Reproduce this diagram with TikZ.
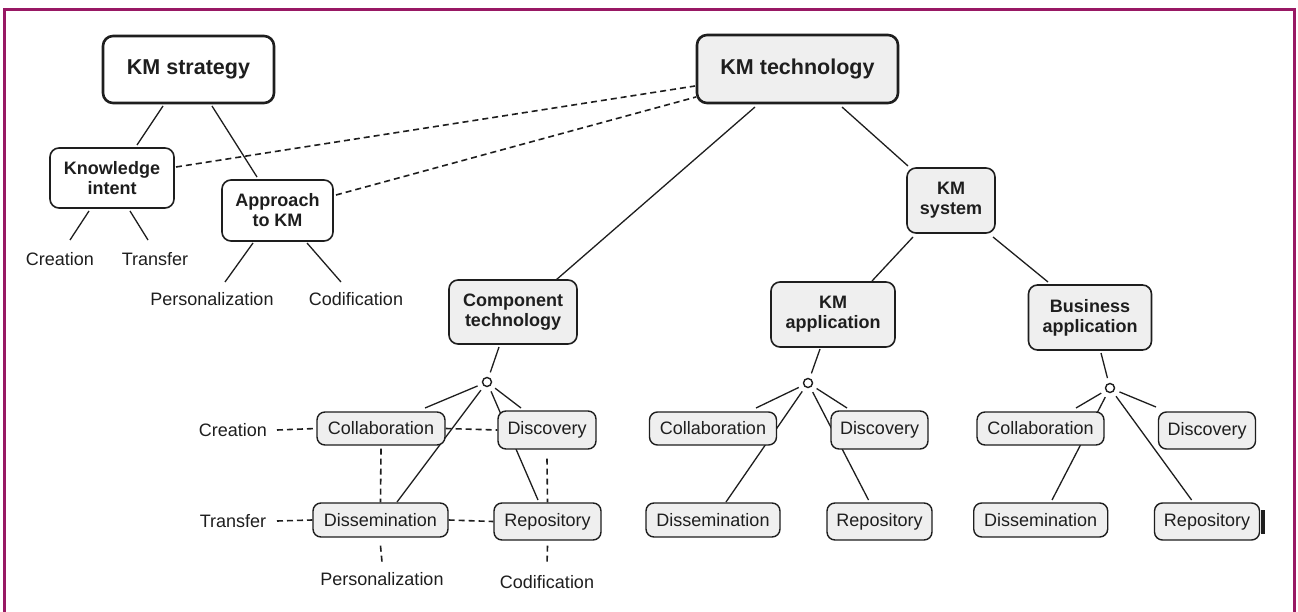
\documentclass[tikz,border=0pt]{standalone}
\usepackage{fontspec}
\setmainfont{Liberation Sans}
\usetikzlibrary{calc}
\definecolor{frame}{RGB}{152,24,100}
\definecolor{boxfill}{RGB}{239,239,239}
\definecolor{ink}{RGB}{30,30,30}
\pgfdeclarelayer{back}
\pgfdeclarelayer{bg}
\pgfsetlayers{back,bg,main}
\begin{document}
\begin{tikzpicture}[x=1pt,y=-1pt,
  every node/.style={text=ink},
  bigbox/.style={draw=ink, rounded corners=10pt, line width=2.6pt, inner sep=0pt, font=\fontsize{21.5}{24}\selectfont\bfseries, align=center},
  midbox/.style={draw=ink, rounded corners=9pt, line width=1.6pt, inner sep=0pt, font=\fontsize{18}{20}\selectfont\bfseries, align=center},
  smallbox/.style={draw=ink, fill=boxfill, rounded corners=8pt, line width=1.4pt, inner sep=0pt, font=\fontsize{18}{20}\selectfont},
  lbl/.style={inner sep=0pt, font=\fontsize{18}{20}\selectfont},
  ln/.style={draw=ink, line width=1.3pt},
  kn/.style={ln, shorten >=5pt},
  nk/.style={ln, shorten <=5pt},
  dsh/.style={draw=ink, line width=1.6pt, dash pattern=on 6pt off 4pt},
  knot/.style={circle, draw=ink, fill=white, line width=1.4pt, minimum size=9pt, inner sep=0pt},
]
\useasboundingbox (0,0) rectangle (1298,612);
\begin{pgfonlayer}{back}
\fill[white] (0,0) rectangle (1298,612);
\draw[frame, line width=3.5pt, line join=miter] (4.5,612) -- (4.5,9.5) -- (1294.5,9.5) -- (1294.5,612);
\end{pgfonlayer}

% main nodes
\node[bigbox, fill=white, minimum width=171pt, minimum height=67pt] (strat) at (188.5,69.5) {KM strategy};
\node[bigbox, fill=boxfill, minimum width=201pt, minimum height=68pt] (tech) at (797.5,69) {KM technology};
\node[midbox, fill=white, minimum width=124pt, minimum height=60pt] (intent) at (112,178) {Knowledge\\intent};
\node[midbox, fill=white, minimum width=111pt, minimum height=61pt] (approach) at (277.5,210.5) {Approach\\to KM};
\node[lbl] (cre1) at (60,259) {Creation};
\node[lbl] (tra1) at (155,259) {Transfer};
\node[lbl] (per1) at (212,299) {Personalization};
\node[lbl] (cod1) at (356,299) {Codification};
\node[midbox, fill=boxfill, minimum width=88pt, minimum height=65pt] (kmsys) at (951,200.5) {KM\\system};
\node[midbox, fill=boxfill, minimum width=128pt, minimum height=64pt] (comp) at (513,312) {Component\\technology};
\node[midbox, fill=boxfill, minimum width=124pt, minimum height=65pt] (kmapp) at (833,314.5) {KM\\application};
\node[midbox, fill=boxfill, minimum width=123pt, minimum height=65pt] (bus) at (1090,317.5) {Business\\application};

% junction knots
\node[knot] (o1) at (487,382) {};
\node[knot] (o2) at (808,383) {};
\node[knot] (o3) at (1110,388) {};

% cluster 1
\node[smallbox, minimum width=128pt, minimum height=33pt] (c1col) at (381,428.5) {Collaboration};
\node[smallbox, minimum width=98pt, minimum height=38pt] (c1dis) at (547,430) {Discovery};
\node[smallbox, minimum width=135pt, minimum height=34pt] (c1dsm) at (380.5,520) {Dissemination};
\node[smallbox, minimum width=107pt, minimum height=37pt] (c1rep) at (547.5,521.5) {Repository};
\node[lbl] (cre2) at (233,430) {Creation};
\node[lbl] (tra2) at (233,521) {Transfer};
\node[lbl] (per2) at (382,579) {Personalization};
\node[lbl] (cod2) at (547,582) {Codification};

% cluster 2
\node[smallbox, minimum width=127pt, minimum height=33pt] (c2col) at (713,428.5) {Collaboration};
\node[smallbox, minimum width=97pt, minimum height=38pt] (c2dis) at (879.5,430) {Discovery};
\node[smallbox, minimum width=134pt, minimum height=34pt] (c2dsm) at (713,520) {Dissemination};
\node[smallbox, minimum width=105pt, minimum height=37pt] (c2rep) at (879.5,521.5) {Repository};

% cluster 3
\node[smallbox, minimum width=127pt, minimum height=33pt] (c3col) at (1040.5,428.5) {Collaboration};
\node[smallbox, minimum width=97pt, minimum height=37pt] (c3dis) at (1207,430.5) {Discovery};
\node[smallbox, minimum width=134pt, minimum height=34pt] (c3dsm) at (1040.7,520) {Dissemination};
\node[smallbox, minimum width=105pt, minimum height=37pt] (c3rep) at (1207,521.5) {Repository};
\fill[ink] (1261,510) rectangle (1264.5,534);

\begin{pgfonlayer}{bg}
% strategy tree
\draw[ln] ([xshift=-25.5pt,yshift=-36.5pt]strat.center) -- ([xshift=25pt,yshift=33pt]intent.center);
\draw[ln] ([xshift=23.5pt,yshift=-36.5pt]strat.center) -- ([xshift=-20.5pt,yshift=33.5pt]approach.center);
\draw[ln] ([xshift=-23pt,yshift=-33pt]intent.center) -- ([xshift=10pt,yshift=19pt]cre1.center);
\draw[ln] ([xshift=18pt,yshift=-33pt]intent.center) -- ([xshift=-7pt,yshift=19pt]tra1.center);
\draw[ln] ([xshift=-24.5pt,yshift=-32.5pt]approach.center) -- ([xshift=13pt,yshift=17pt]per1.center);
\draw[ln] ([xshift=29.5pt,yshift=-32.5pt]approach.center) -- ([xshift=-15pt,yshift=17pt]cod1.center);
\draw[dsh] ([xshift=64pt,yshift=11pt]intent.center) -- ([xshift=-102.5pt,yshift=-17pt]tech.center);
\draw[dsh] ([xshift=58.5pt,yshift=15.5pt]approach.center) -- ([xshift=-101.5pt,yshift=-28pt]tech.center);
% technology tree
\draw[ln] ([xshift=-42.5pt,yshift=-38pt]tech.center) -- ([xshift=43pt,yshift=32pt]comp.center);
\draw[ln] ([xshift=44.5pt,yshift=-38pt]tech.center) -- ([xshift=-43pt,yshift=34.5pt]kmsys.center);
\draw[ln] ([xshift=-38pt,yshift=-36.5pt]kmsys.center) -- ([xshift=39pt,yshift=33.5pt]kmapp.center);
\draw[ln] ([xshift=42pt,yshift=-36.5pt]kmsys.center) -- ([xshift=-42pt,yshift=35.5pt]bus.center);
% cluster 1
\draw[kn] ([xshift=-14pt,yshift=-35pt]comp.center) -- (o1);
\draw[nk] (o1) -- ([xshift=44pt,yshift=20.5pt]c1col.center);
\draw[nk] (o1) -- ([xshift=16.5pt,yshift=18pt]c1dsm.center);
\draw[nk] (o1) -- ([xshift=-26pt,yshift=22pt]c1dis.center);
\draw[nk] (o1) -- ([xshift=-9.5pt,yshift=21.5pt]c1rep.center);
\draw[dsh] ([xshift=44pt]cre2.center) -- (c1col.west);
\draw[dsh] ([xshift=44pt]tra2.center) -- (c1dsm.west);
\draw[dsh] (c1col.east) -- (c1dis.west);
\draw[dsh] (c1dsm.east) -- (c1rep.west);
\draw[dsh] ([yshift=-3pt]c1col.south) -- (c1dsm.north);
\draw[dsh] ([yshift=-9pt]c1dis.south) -- (c1rep.north);
\draw[dsh] ([yshift=-8pt]c1dsm.south) -- ([yshift=17pt]per2.center);
\draw[dsh] ([yshift=-5pt]c1rep.south) -- ([yshift=17pt]cod2.center);
% cluster 2
\draw[kn] ([xshift=-13pt,yshift=-34.5pt]kmapp.center) -- (o2);
\draw[nk] (o2) -- ([xshift=43pt,yshift=20.5pt]c2col.center);
\draw[nk] (o2) -- ([xshift=13pt,yshift=18pt]c2dsm.center);
\draw[nk] (o2) -- ([xshift=-32.5pt,yshift=22pt]c2dis.center);
\draw[nk] (o2) -- ([xshift=-11pt,yshift=21.5pt]c2rep.center);
% cluster 3
\draw[kn] ([xshift=11pt,yshift=-35.5pt]bus.center) -- (o3);
\draw[nk] (o3) -- ([xshift=35.5pt,yshift=20.5pt]c3col.center);
\draw[nk] (o3) -- ([xshift=11.3pt,yshift=20pt]c3dsm.center);
\draw[nk] (o3) -- ([xshift=-51pt,yshift=23.5pt]c3dis.center);
\draw[nk] (o3) -- ([xshift=-15.4pt,yshift=21.5pt]c3rep.center);
\end{pgfonlayer}
\end{tikzpicture}
\end{document}
